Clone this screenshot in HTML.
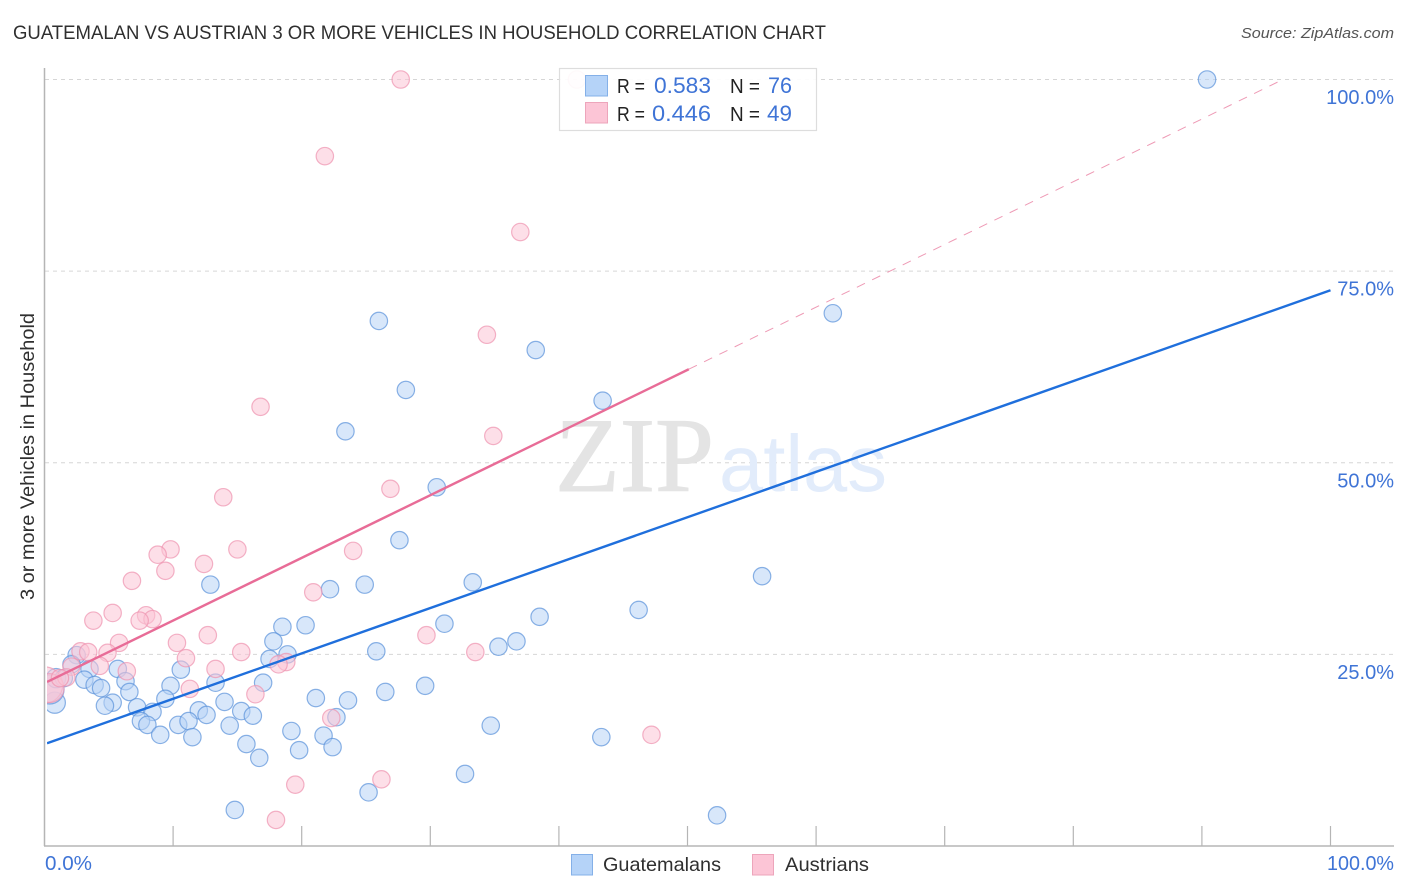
<!DOCTYPE html>
<html lang="en">
<head>
<meta charset="utf-8">
<title>Guatemalan vs Austrian 3 or More Vehicles in Household Correlation Chart</title>
<style>
html,body{margin:0;padding:0;background:#fff;width:1406px;height:892px;overflow:hidden}
svg{display:block;font-family:"Liberation Sans",Arial,sans-serif}
</style>
</head>
<body>
<svg id="chart" xmlns="http://www.w3.org/2000/svg" width="1406" height="892" viewBox="0 0 1406 892">
  <defs>
    <clipPath id="plot-clip"><rect x="47" y="60" width="1350" height="786"/></clipPath>
  </defs>
  <text x="13" y="39" font-size="19" fill="#2f2f2f" textLength="813" lengthAdjust="spacingAndGlyphs">GUATEMALAN VS AUSTRIAN 3 OR MORE VEHICLES IN HOUSEHOLD CORRELATION CHART</text>
  <text x="1394" y="38" font-size="15" font-style="italic" fill="#555" text-anchor="end" textLength="153" lengthAdjust="spacingAndGlyphs">Source: ZipAtlas.com</text>

  <g id="grid"></g>

  <g>
    <text x="555" y="491" font-family="'Liberation Serif',serif" font-size="106" fill="#e4e4e4" stroke="#e4e4e4" stroke-width="1" textLength="159" lengthAdjust="spacingAndGlyphs">ZIP</text>
    <text x="719" y="491" font-size="80" fill="#e2ecfb" textLength="168" lengthAdjust="spacingAndGlyphs">atlas</text>
  </g>

  <g clip-path="url(#plot-clip)">
    <g id="points-guatemalans"></g>
    <g id="points-austrians"></g>
    <g id="trends"></g>
  </g>

  <line x1="44.5" y1="68" x2="44.5" y2="846" stroke="#b5b5b5" stroke-width="1.5"/>
  <line x1="44" y1="846" x2="1394" y2="846" stroke="#b5b5b5" stroke-width="1.5"/>
  <g id="ticks"></g>
  <g id="ylabels"></g>

  <text x="45" y="870" font-size="20" fill="#3f74d6" textLength="47" lengthAdjust="spacingAndGlyphs">0.0%</text>
  <text x="1394" y="870" font-size="20" fill="#3f74d6" text-anchor="end" textLength="67" lengthAdjust="spacingAndGlyphs">100.0%</text>

  <text transform="translate(34,600) rotate(-90)" font-size="19" fill="#2f2f2f" textLength="287" lengthAdjust="spacingAndGlyphs">3 or more Vehicles in Household</text>

  <g>
    <rect x="559.5" y="68.5" width="257" height="62" fill="#fff" fill-opacity="0.92" stroke="#dddddd" stroke-width="1.2"/>
    <rect x="585.5" y="75.5" width="22" height="20.5" fill="#b5d3f8" stroke="#84b0e8" stroke-width="1"/>
    <rect x="585.5" y="102.5" width="22" height="20.5" fill="#fcc5d6" stroke="#eda5bb" stroke-width="1"/>
    <text x="617" y="93" font-size="20" fill="#222" textLength="28" lengthAdjust="spacingAndGlyphs">R =</text>
    <text x="654" y="93" font-size="22" fill="#3f74d6" textLength="57" lengthAdjust="spacingAndGlyphs">0.583</text>
    <text x="730" y="93" font-size="20" fill="#222" textLength="30" lengthAdjust="spacingAndGlyphs">N =</text>
    <text x="768" y="93" font-size="22" fill="#3f74d6" textLength="24" lengthAdjust="spacingAndGlyphs">76</text>
    <text x="617" y="121" font-size="20" fill="#222" textLength="28" lengthAdjust="spacingAndGlyphs">R =</text>
    <text x="652" y="121" font-size="22" fill="#3f74d6" textLength="59" lengthAdjust="spacingAndGlyphs">0.446</text>
    <text x="730" y="121" font-size="20" fill="#222" textLength="30" lengthAdjust="spacingAndGlyphs">N =</text>
    <text x="767" y="121" font-size="22" fill="#3f74d6" textLength="25" lengthAdjust="spacingAndGlyphs">49</text>
  </g>

  <g>
    <rect x="571.5" y="854.5" width="21" height="20.5" fill="#b5d3f8" stroke="#84b0e8" stroke-width="1"/>
    <text x="603" y="871" font-size="19.5" fill="#2f2f2f" textLength="118" lengthAdjust="spacingAndGlyphs">Guatemalans</text>
    <rect x="752.5" y="854.5" width="21" height="20.5" fill="#fcc5d6" stroke="#eda5bb" stroke-width="1"/>
    <text x="785" y="871" font-size="19.5" fill="#2f2f2f" textLength="84" lengthAdjust="spacingAndGlyphs">Austrians</text>
  </g>
</svg>
<script>
const guatemalanX = [90.4,61.3,26.0,38.2,28.1,43.4,23.4,30.5,27.6,55.8,12.9,22.2,24.9,33.3,46.2,38.5,31.1,20.3,18.5,17.8,36.7,35.3,25.8,18.9,17.5,2.5,2.1,3.5,5.7,10.6,6.3,13.3,17.0,3.1,3.9,4.4,6.6,9.8,9.4,5.3,4.7,7.2,8.4,14.0,21.1,23.6,26.5,29.6,12.0,12.6,15.3,16.2,7.5,8.0,10.4,11.2,14.4,9.0,11.5,22.7,19.2,21.7,22.4,19.8,15.7,16.7,14.8,25.2,0.8,0.4,34.7,43.3,32.7,52.3,0.9,1.5];
const guatemalanY = [100,69.5,68.5,64.7,59.5,58.1,54.1,46.8,39.9,35.2,34.1,33.5,34.1,34.4,30.8,29.9,29.0,28.8,28.6,26.7,26.7,26.0,25.4,25.0,24.4,24.9,23.7,23.1,23.1,23.0,21.5,21.3,21.3,21.7,21.0,20.6,20.1,20.9,19.2,18.7,18.3,18.1,17.5,18.8,19.3,19.0,20.1,20.9,17.7,17.1,17.6,17.0,16.3,15.8,15.8,16.3,15.7,14.5,14.2,16.8,15.0,14.4,12.9,12.5,13.3,11.5,4.7,7.0,18.7,20.4,15.7,14.2,9.4,4.0,21.9,21.9];
const austrianX = [27.7,41.4,21.8,37.0,34.4,16.8,34.9,26.9,13.9,15.0,24.0,9.8,8.8,12.4,9.4,6.8,20.9,5.3,7.9,8.4,7.4,3.8,29.7,12.7,10.3,5.8,33.5,15.3,2.8,3.4,4.9,11.0,18.8,18.2,4.3,13.3,6.4,2.1,11.3,16.4,22.3,47.2,26.2,19.5,18.0,0.0,0.4,1.7,1.2];
const austrianY = [100,100,90.0,80.1,66.7,57.3,53.5,46.6,45.5,38.7,38.5,38.7,38.0,36.8,35.9,34.6,33.1,30.4,30.1,29.6,29.4,29.4,27.5,27.5,26.5,26.5,25.3,25.3,25.4,25.3,25.2,24.5,24.0,23.7,23.5,23.1,22.8,23.4,20.5,19.8,16.7,14.5,8.7,8.0,3.4,21.0,20.6,22.0,21.9];
const guatemalanTrendX = [0.2,100];
const guatemalanTrendY = [13.4,72.5];
const austrianTrendX = [0.2,50.1];
const austrianTrendY = [21.4,62.2];
const austrianProjectionX = [50.1,96.3];
const austrianProjectionY = [62.2,100];
const yTickValues = [25,50,75,100];
const yTickLabels = ["25.0%","50.0%","75.0%","100.0%"];
const xTickValues = [10,20,30,40,50,60,70,80,90,100];

const NS = "http://www.w3.org/2000/svg";
function xScale(v){ return 44.5 + v * 12.86; }
function yScale(v){ return 846 - v * 7.665; }
function radius(x){ return 8.7 + Math.max(0, 1 - x) * 9.5; }

function drawPoints(host, xs, ys, fill, stroke, name){
  xs.forEach(function(x, i){
    const c = document.createElementNS(NS, "circle");
    c.setAttribute("cx", xScale(x));
    c.setAttribute("cy", yScale(ys[i]));
    c.setAttribute("r", radius(x));
    c.setAttribute("fill", fill);
    c.setAttribute("fill-opacity", "0.55");
    c.setAttribute("stroke", stroke);
    c.setAttribute("stroke-opacity", "0.7");
    c.setAttribute("stroke-width", "1.2");
    
    
    host.appendChild(c);
  });
}
drawPoints(document.getElementById("points-guatemalans"), guatemalanX, guatemalanY, "#b8d4f6", "#5a92da", "guatemalan-point");
drawPoints(document.getElementById("points-austrians"), austrianX, austrianY, "#fbc5d6", "#ee93af", "austrian-point");

function drawLine(xs, ys, color, width, dash, name){
  const l = document.createElementNS(NS, "line");
  l.setAttribute("x1", xScale(xs[0]));
  l.setAttribute("y1", yScale(ys[0]));
  l.setAttribute("x2", xScale(xs[1]));
  l.setAttribute("y2", yScale(ys[1]));
  l.setAttribute("stroke", color);
  l.setAttribute("stroke-width", width);
  if (dash) l.setAttribute("stroke-dasharray", dash);
  
  
  document.getElementById("trends").appendChild(l);
}
drawLine(austrianProjectionX, austrianProjectionY, "#ee9ab5", 1, "9 8", "austrian-trend-projection");
drawLine(guatemalanTrendX, guatemalanTrendY, "#1f6fdc", 2.4, null, "guatemalan-trend-line");
drawLine(austrianTrendX, austrianTrendY, "#e86c97", 2.4, null, "austrian-trend-line");

yTickValues.forEach(function(v, i){
  const y = yScale(v);
  const g = document.createElementNS(NS, "line");
  g.setAttribute("x1", 45);
  g.setAttribute("x2", 1394);
  g.setAttribute("y1", y);
  g.setAttribute("y2", y);
  g.setAttribute("stroke", "#d6d6d6");
  g.setAttribute("stroke-width", "1");
  g.setAttribute("stroke-dasharray", "4 4");
  
  
  document.getElementById("grid").appendChild(g);

  const t = document.createElementNS(NS, "text");
  t.setAttribute("x", 1394);
  t.setAttribute("y", y + 24.5);
  t.setAttribute("font-size", "20");
  t.setAttribute("fill", "#3f74d6");
  t.setAttribute("text-anchor", "end");
  
  
  t.textContent = yTickLabels[i];
  document.getElementById("ylabels").appendChild(t);
});

xTickValues.forEach(function(v){
  const x = xScale(v);
  const l = document.createElementNS(NS, "line");
  l.setAttribute("x1", x);
  l.setAttribute("x2", x);
  l.setAttribute("y1", 826);
  l.setAttribute("y2", 846);
  l.setAttribute("stroke", "#b5b5b5");
  l.setAttribute("stroke-width", "1.2");
  
  
  document.getElementById("ticks").appendChild(l);
});
</script>
</body>
</html>
